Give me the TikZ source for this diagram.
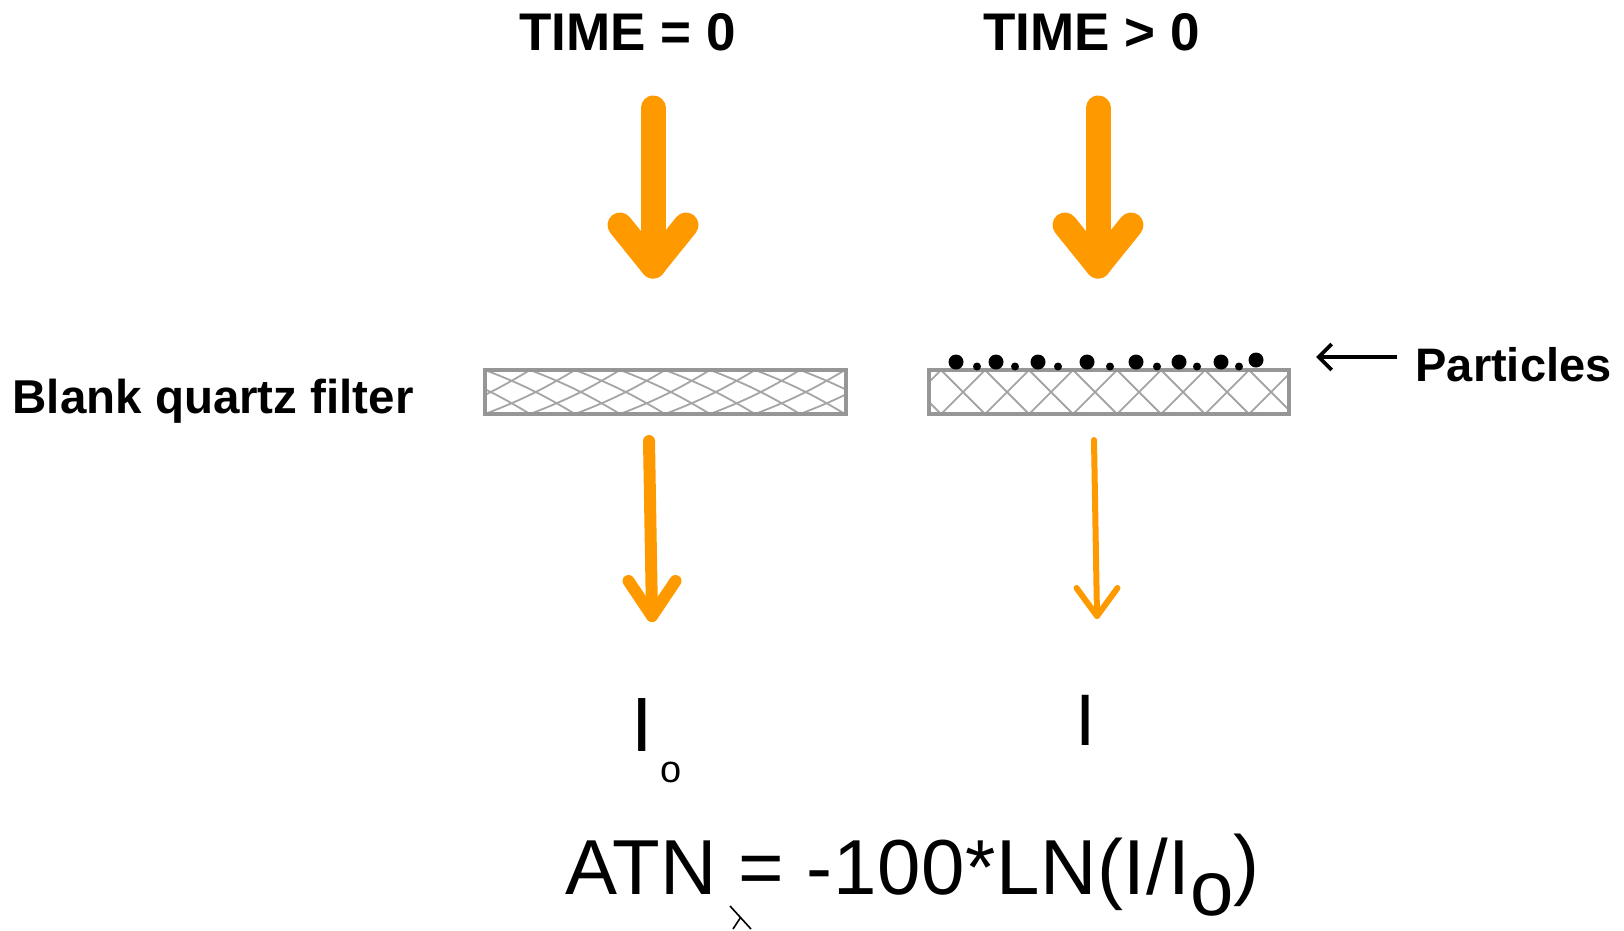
\documentclass[tikz,border=0pt]{standalone}
\usepackage{fontspec}
\setmainfont{Liberation Sans}
\usetikzlibrary{calc,arrows.meta}
\definecolor{beamorange}{RGB}{255,153,0}
\definecolor{fborder}{RGB}{150,150,150}
\definecolor{fhatch}{RGB}{165,165,165}
\begin{document}
\begin{tikzpicture}[x=1pt,y=-1pt,
  titletext/.style={anchor=base,font=\fontsize{53}{60}\selectfont\bfseries},
  labeltext/.style={anchor=base west,font=\fontsize{47.5}{55}\selectfont\bfseries},
  beam/.style={draw=beamorange,line cap=round,line join=round},
  filterbox/.style={draw=fborder,line width=4pt,inner sep=0pt,minimum height=44pt},
  hatch/.style={draw=fhatch,line width=1.8pt},
  bigdot/.style={fill=black,draw=none},
]
\useasboundingbox (0,0) rectangle (1624,930);

% titles
\node[titletext] (t0) at (627.5,50) {TIME = 0};
\node[titletext] (t1) at (1091.5,50) {TIME > 0};

% big incoming beams
\coordinate (b0s) at (653,108);
\coordinate (b0e) at (653,266);
\coordinate (b1s) at (1098,108);
\coordinate (b1e) at (1098,266);
\foreach \s/\e in {b0s/b0e,b1s/b1e}{
  \draw[beam,line width=25pt] (\s) -- (\e);
  \draw[beam,line width=25pt] ($(\e)+(-33,-41)$) -- (\e) -- ($(\e)+(33,-41)$);
}

% filters: hatching first
\begin{scope}
  \clip (485,370) rectangle (846,414);
  \foreach \p in {350,395,...,900}{
    \draw[hatch] (\p,370) to[bend left=5] ({\p+90},414);
    \draw[hatch] ({\p+90},370) to[bend left=5] (\p,414);
  }
\end{scope}
\begin{scope}
  \clip (929,370) rectangle (1289,414);
  \foreach \p in {853,897,...,1300}{
    \draw[hatch] (\p,370) -- ({\p+44},414);
    \draw[hatch] ({\p+44},370) -- (\p,414);
  }
\end{scope}
\node[filterbox,minimum width=361pt] (f0) at (665.5,392) {};
\node[filterbox,minimum width=360pt] (f1) at (1109,392) {};

% particles
\foreach \x in {956,996,1038,1087,1136,1179,1221}{
  \fill[bigdot] (\x,362) circle (7.5);
}
\fill[bigdot] (1256,360) circle (7.5);
\foreach \x in {977,1015,1058,1110,1157,1197,1239}{
  \fill[bigdot] (\x,366.5) circle (4);
}

% labels
\node[labeltext] (blank) at (9,413) {Blank quartz filter};
\node[labeltext,font=\fontsize{47}{55}\selectfont\bfseries] (part) at (1412,381) {Particles};
\coordinate (pstart) at (1397,357);
\coordinate (ptip) at (1316,357);
\draw[line width=3.8pt,-{Straight Barb[length=13pt,width=26pt,line width=3.8pt]}] (pstart) -- (ptip);

% transmitted beams
\coordinate (m0s) at (649,441);
\coordinate (m0e) at (652,616);
\draw[beam,line width=12pt] (m0s) -- (m0e);
\draw[beam,line width=12pt] ($(m0e)+(-23.5,-35)$) -- (m0e) -- ($(m0e)+(23.5,-35)$);
\coordinate (m1s) at (1094,440);
\coordinate (m1e) at (1097,616);
\draw[beam,line width=6pt] (m1s) -- (m1e);
\draw[beam,line width=6pt] ($(m1e)+(-20.5,-28)$) -- (m1e) -- ($(m1e)+(20.5,-28)$);

% intensities
\node[anchor=base,font=\fontsize{77}{80}\selectfont] (Io) at (642.5,751) {I};
\node[anchor=base,font=\fontsize{38}{40}\selectfont] (Iosub) at (671,782) {o};
\node[anchor=base,font=\fontsize{73}{80}\selectfont] (I) at (1086,745) {I};

% formula
\node[anchor=base west,font=\fontsize{78}{90}\selectfont\addfontfeature{LetterSpace=0.8},inner sep=0pt] (atn) at (565,894)
  {ATN = -100*LN(I/I\raisebox{-21pt}{o}\raisebox{3.5pt}{)}};

% small mark
\coordinate (mk1) at (730,906);
\coordinate (mk2) at (751,929);
\coordinate (mk3) at (740.5,917.5);
\coordinate (mk4) at (733,929);
\draw[line width=1.6pt] (mk1) -- (mk2);
\draw[line width=1.6pt] (mk3) -- (mk4);
\end{tikzpicture}
\end{document}
